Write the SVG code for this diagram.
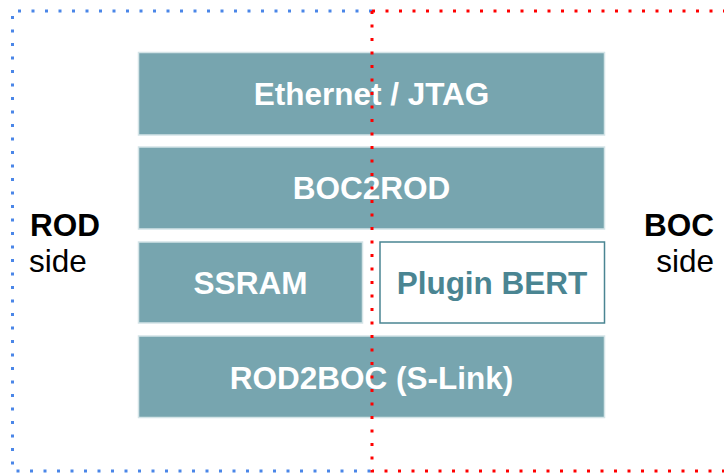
<svg xmlns="http://www.w3.org/2000/svg" width="724" height="475" viewBox="0 0 724 475">
<style>
.blk{fill:#77A5AF;stroke:#D4E4E7;stroke-width:1.5}
.wt{fill:#FFFFFF;font-family:"Liberation Sans",Arial,sans-serif;font-weight:bold;font-size:31.5px;text-anchor:middle}
.side{fill:#000;font-family:"Liberation Sans",Arial,sans-serif;font-size:31.5px}
.dotb{fill:none;stroke:#4A86E8;stroke-width:3;stroke-dasharray:3 10.5}
.dotr{fill:none;stroke:#FF0000;stroke-width:3;stroke-dasharray:3 10.5}
</style>
<rect width="724" height="475" fill="#fff"/>
<g id="ethernet"><rect class="blk" x="138.5" y="52.5" width="466" height="82.5"/><text class="wt" x="371.5" y="105">Ethernet / JTAG</text></g>
<g id="boc2rod"><rect class="blk" x="138.5" y="147" width="466" height="82"/><text class="wt" x="371.5" y="199">BOC2ROD</text></g>
<g id="ssram"><rect class="blk" x="138.5" y="242" width="224" height="81"/><text class="wt" x="250.5" y="294">SSRAM</text></g>
<g id="bert"><rect x="380" y="242" width="224.5" height="81" fill="#fff" stroke="#4A8592" stroke-width="1.5"/><text class="wt" x="492" y="294" style="fill:#4A8592">Plugin BERT</text></g>
<g id="rod2boc"><rect class="blk" x="138.5" y="336" width="466" height="81.5"/><text class="wt" x="371.5" y="389">ROD2BOC (S-Link)</text></g>
<g id="rodside"><text class="side" x="30" y="236" font-weight="bold">ROD</text><text class="side" x="29" y="272">side</text></g>
<g id="bocside"><text class="side" x="714" y="236" font-weight="bold" text-anchor="end">BOC</text><text class="side" x="714" y="272" text-anchor="end">side</text></g>
<g id="connectors">
<path class="dotb" d="M372 11 H12.5 V471 H372"/>
<path class="dotr" d="M372 11 H724 M372 11 V471 H724"/>
</g>
</svg>
